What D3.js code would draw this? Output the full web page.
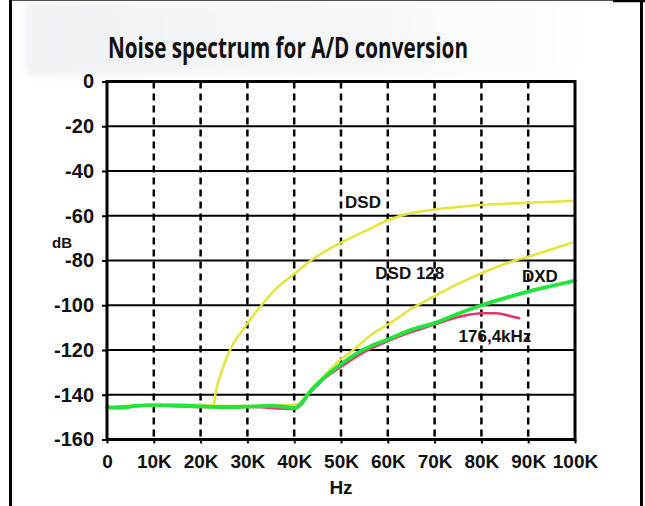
<!DOCTYPE html>
<html>
<head>
<meta charset="utf-8">
<script src="https://cdn.jsdelivr.net/npm/d3@7/dist/d3.min.js"></script>
<style>
  html, body { margin: 0; padding: 0; background: #fff; }
  svg { display: block; }
  .tick text { font-family: Arial, "Liberation Sans", sans-serif; font-weight: bold; fill: #111; }
</style>
</head>
<body>
<svg id="chart" width="645" height="506"></svg>
<script>
// Frequency ticks (Hz) and level ticks (dB)
const xTicks = [0, 10000, 20000, 30000, 40000, 50000, 60000, 70000, 80000, 90000, 100000];
const xTickLabels = ["0", "10K", "20K", "30K", "40K", "50K", "60K", "70K", "80K", "90K", "100K"];
const yTicks = [0, -20, -40, -60, -80, -100, -120, -140, -160];

// DSD (64) noise floor
const dsdHz = [0, 5000, 10000, 15000, 20000, 22700, 23300, 24100, 26300, 29500, 33000, 36600, 40200, 43700, 50000, 55000, 60000, 65000, 70000, 80000, 90000, 100000];
const dsdDb = [-145.5, -145.2, -144.8, -144.6, -144.4, -145, -138, -132, -120, -109.6, -100, -91.7, -85.7, -79.8, -72, -67, -62, -58.8, -57.2, -55.2, -54.2, -53.3];

// DSD 128 noise floor
const dsd128Hz = [0, 10000, 20000, 30000, 40000, 41000, 43400, 46000, 49000, 52600, 56900, 60500, 64700, 70000, 75000, 80000, 87500, 90000, 95000, 100000];
const dsd128Db = [-145.5, -144.6, -144.8, -145, -144.5, -144, -138, -132.5, -126, -120, -112.5, -108, -102, -95.9, -90.5, -85.7, -79.8, -78.3, -75, -71.6];

// PCM 176.4 kHz noise floor
const pcm176Hz = [0, 10000, 20000, 30000, 40000, 41200, 43400, 46200, 50000, 55000, 60000, 65000, 70000, 75000, 77000, 80000, 83300, 86100, 88100];
const pcm176Db = [-145.8, -144.8, -145.4, -145.4, -146.3, -145, -139, -133.2, -127.5, -120.8, -116, -112, -108.6, -105.3, -104.4, -103.6, -103.6, -104.8, -105.8];

// DXD noise floor
const dxdHz = [0, 3000, 6000, 10000, 15000, 20000, 25000, 30000, 35000, 38000, 40000, 41200, 43400, 46200, 49800, 53400, 56900, 60000, 65000, 70000, 75000, 80000, 85000, 90000, 95000, 100000];
const dxdDb = [-145.6, -145.8, -145, -144.6, -144.8, -145.2, -145.5, -145.3, -145, -145.4, -146, -144.5, -138.6, -132.7, -126.7, -121.5, -117.8, -115.3, -111, -108, -103.8, -100, -96.8, -93.9, -91.4, -89];

// Curve annotations (anchor in Hz / dB)
const labelText = ["DSD", "DSD 128", "DXD", "176,4kHz"];
const labelHz = [54700, 64700, 92500, 82900];
const labelDb = [-53.9, -85.6, -86.9, -113.7];

const svg = d3.select("#chart");

// faint grey backdrop behind the title, with softened edges
const defs = svg.append("defs");
const grad = defs.append("linearGradient").attr("id", "haze").attr("x1", 0).attr("x2", 1).attr("y1", 0).attr("y2", 0);
grad.append("stop").attr("offset", "0%").attr("stop-color", "#eff2f5");
grad.append("stop").attr("offset", "60%").attr("stop-color", "#f6f7f9");
grad.append("stop").attr("offset", "100%").attr("stop-color", "#ffffff");
defs.append("filter").attr("id", "soft").attr("x", "-10%").attr("y", "-20%").attr("width", "120%").attr("height", "140%")
  .append("feGaussianBlur").attr("stdDeviation", 4);
svg.append("rect").attr("x", 25).attr("y", 2).attr("width", 575).attr("height", 74)
  .attr("fill", "url(#haze)").attr("filter", "url(#soft)");

// page border
svg.append("line").attr("x1", 10).attr("x2", 614).attr("y1", 0.5).attr("y2", 0.5).attr("stroke", "#555").attr("stroke-width", 1);
svg.append("line").attr("x1", 613).attr("x2", 645).attr("y1", 1).attr("y2", 1).attr("stroke", "#000").attr("stroke-width", 2.5);
svg.append("line").attr("x1", 10.5).attr("x2", 10.5).attr("y1", 0).attr("y2", 506).attr("stroke", "#000").attr("stroke-width", 3);
svg.append("line").attr("x1", 641.5).attr("x2", 641.5).attr("y1", 0).attr("y2", 506).attr("stroke", "#000").attr("stroke-width", 3);

const x = d3.scaleLinear().domain([0, 100000]).range([107, 575]);
const y = d3.scaleLinear().domain([-160, 0]).range([439.5, 81.5]);

// title
svg.append("text")
  .attr("x", 108).attr("y", 58)
  .attr("textLength", 360).attr("lengthAdjust", "spacingAndGlyphs")
  .style("font-family", "'Liberation Sans Narrow', 'Arial Narrow', 'Open Sans', sans-serif")
  .style("font-size", "28px")
  .style("font-weight", "bold")
  .style("fill", "#111")
  .text("Noise spectrum for A/D conversion");

// horizontal grid
svg.append("g").selectAll("line")
  .data(yTicks.filter(d => d !== 0 && d !== -160))
  .join("line")
  .attr("x1", x(0)).attr("x2", x(100000))
  .attr("y1", d => y(d)).attr("y2", d => y(d))
  .attr("stroke", "#000").attr("stroke-width", 2);

// vertical dashed grid
svg.append("g").selectAll("line")
  .data(xTicks.filter(d => d !== 0 && d !== 100000))
  .join("line")
  .attr("x1", d => x(d)).attr("x2", d => x(d))
  .attr("y1", y(0)).attr("y2", y(-160))
  .attr("stroke", "#000").attr("stroke-width", 2.5)
  .attr("stroke-dasharray", "7,5");

// axes
const yAxis = d3.axisLeft(y).tickValues(yTicks).tickFormat(d3.format("d")).tickSize(5).tickPadding(8);
const gy = svg.append("g").attr("transform", `translate(${x(0)},0)`).call(yAxis);
gy.select(".domain").remove();
gy.selectAll(".tick line").attr("stroke", "#000").attr("stroke-width", 2);
gy.selectAll(".tick text").style("font-size", "20px").text(d => d === 0 ? "0" : "-" + Math.abs(d));

const xAxis = d3.axisBottom(x).tickValues(xTicks).tickFormat((d, i) => xTickLabels[i]).tickSize(4).tickPadding(11);
const gx = svg.append("g").attr("transform", `translate(0,${y(-160)})`).call(xAxis);
gx.select(".domain").remove();
gx.selectAll(".tick line").attr("stroke", "#000").attr("stroke-width", 2);
gx.selectAll(".tick text").style("font-size", "19px");

// axis titles
svg.append("text").attr("x", 341).attr("y", 494).attr("text-anchor", "middle")
  .style("font-family", "Arial, 'Liberation Sans', sans-serif").style("font-weight", "bold").style("font-size", "19px")
  .style("fill", "#111").text("Hz");
svg.append("text").attr("x", 62).attr("y", 248).attr("text-anchor", "middle")
  .style("font-family", "Arial, 'Liberation Sans', sans-serif").style("font-weight", "bold").style("font-size", "15px")
  .style("fill", "#111").text("dB");

// curves
const line = d3.line().x(d => x(d[0])).y(d => y(d[1])).curve(d3.curveMonotoneX);
const zip = (hz, db) => hz.map((h, i) => [h, db[i]]);
const series = [
  { pts: zip(dsdHz, dsdDb), color: "#e4e43c", width: 2.5 },
  { pts: zip(dsd128Hz, dsd128Db), color: "#e4e43c", width: 2.5 },
  { pts: zip(pcm176Hz, pcm176Db), color: "#e8336b", width: 2.6 },
  { pts: zip(dxdHz, dxdDb), color: "#22e43c", width: 3.8 }
];
svg.append("g").selectAll("path")
  .data(series)
  .join("path")
  .attr("d", d => line(d.pts))
  .attr("fill", "none")
  .attr("stroke", d => d.color)
  .attr("stroke-width", d => d.width)
  .attr("stroke-linejoin", "round")
  .attr("stroke-linecap", "round");

// plot frame
svg.append("rect")
  .attr("x", x(0)).attr("y", y(0))
  .attr("width", x(100000) - x(0)).attr("height", y(-160) - y(0))
  .attr("fill", "none").attr("stroke", "#000").attr("stroke-width", 3);

// curve labels
svg.append("g").selectAll("text")
  .data(labelText)
  .join("text")
  .attr("x", (d, i) => x(labelHz[i]))
  .attr("y", (d, i) => y(labelDb[i]))
  .attr("text-anchor", "middle")
  .attr("dy", "0.36em")
  .style("font-family", "Arial, 'Liberation Sans', sans-serif")
  .style("font-weight", "bold")
  .style("font-size", "17px")
  .style("fill", "#111")
  .text(d => d);
</script>
</body>
</html>
